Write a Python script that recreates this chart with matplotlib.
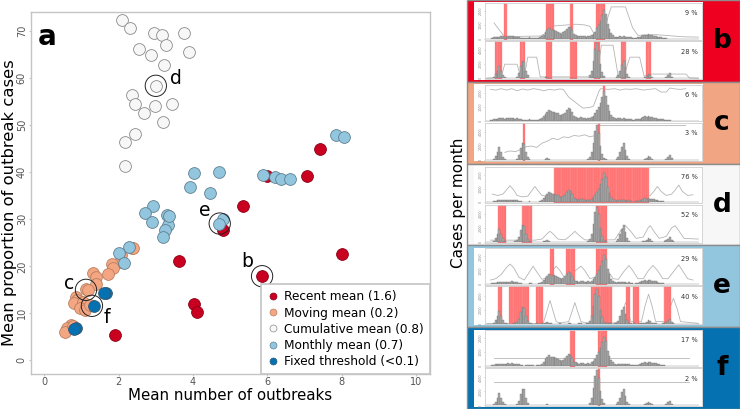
import numpy as np
import matplotlib
matplotlib.use('Agg')
import matplotlib.pyplot as plt
from matplotlib.patches import Rectangle
from matplotlib.lines import Line2D

# ---------------- data: panel a ----------------
recent_x = [7.43, 7.06, 5.98, 5.35, 4.80, 3.62, 8.00, 5.85, 4.02, 4.11, 1.90]
recent_y = [45.0, 39.2, 39.3, 32.8, 27.7, 21.1, 22.6, 18.0, 12.0, 10.2, 5.4]

moving_x = [2.36, 2.38, 2.05, 2.03, 1.81, 1.85, 1.72, 1.31, 1.40, 1.39, 1.12, 1.18,
            0.85, 0.88, 0.79, 1.03, 0.96, 1.09, 1.22, 0.71, 0.60, 0.56, 0.78]
moving_y = [24.0, 23.8, 22.4, 21.0, 20.6, 19.6, 18.4, 18.6, 17.7, 16.2, 15.1, 15.0,
            13.4, 12.8, 12.1, 12.5, 11.1, 10.7, 11.8, 7.5, 6.8, 6.0, 7.3]

cumul_x = [2.08, 2.30, 2.95, 3.17, 3.76, 3.28, 2.55, 2.87, 3.89, 3.22, 3.00, 2.37,
           2.43, 2.98, 3.43, 2.67, 3.20, 2.44, 2.16, 2.16]
cumul_y = [72.3, 70.8, 69.7, 69.2, 69.6, 67.1, 66.2, 65.0, 65.5, 62.8, 58.4, 56.4,
           54.5, 54.1, 54.5, 52.6, 50.6, 48.1, 46.4, 41.3]

monthly_x = [7.84, 8.07, 4.03, 4.70, 3.91, 4.45, 5.89, 6.22, 6.36, 6.60, 2.93, 2.72,
             2.89, 3.29, 3.33, 3.24, 3.20, 3.36, 4.80, 4.71, 2.27, 2.01, 2.14]
monthly_y = [47.9, 47.5, 39.9, 40.1, 36.9, 35.7, 39.4, 38.9, 38.6, 38.5, 32.8, 31.3,
             29.4, 30.9, 28.8, 27.7, 26.3, 30.7, 30.1, 29.0, 24.2, 22.9, 20.8]

fixed_x = [1.67, 1.60, 1.33, 0.85, 0.79]
fixed_y = [14.4, 14.3, 11.6, 6.8, 6.7]

series_labels = ['Recent mean (1.6)', 'Moving mean (0.2)', 'Cumulative mean (0.8)',
                 'Monthly mean (0.7)', 'Fixed threshold (<0.1)']

ann_labels = ['b', 'c', 'd', 'e', 'f']
ann_cx = [5.86, 1.12, 3.00, 4.72, 1.28]
ann_cy = [17.9, 15.0, 58.4, 29.1, 11.6]
ann_tx = [5.46, 0.67, 3.54, 4.33, 1.67]
ann_ty = [21.0, 16.3, 60.0, 31.9, 9.2]

x_ticks = [0, 2, 4, 6, 8, 10]
y_ticks = [0, 10, 20, 30, 40, 50, 60, 70]

# ---------------- data: panels b-f ----------------
cases_top = [0, 0, 20, 60, 100, 120, 150, 160, 180, 170,
             150, 160, 190, 170, 200, 180, 150, 160, 120, 80,
             40, 30, 50, 40, 100, 60, 40, 30, 50, 60,
             100, 180, 300, 480, 620, 760, 680, 620, 640, 560,
             520, 420, 380, 460, 560, 740, 880, 820, 600, 320,
             260, 210, 180, 230, 210, 170, 150, 200, 180, 260,
             360, 520, 760, 1000, 1300, 1700, 2100, 1800, 1100, 700,
             400, 260, 160, 100, 160, 180, 150, 170, 140, 120,
             150, 100, 60, 50, 80, 100, 150, 200, 250, 300,
             250, 320, 280, 250, 220, 200, 150, 120, 100, 80,
             50, 30, 20, 10, 0, 0, 0, 0, 0, 0,
             0, 0, 0, 0, 0, 0, 0, 0, 0, 0]

cases_bot = [0, 0, 0, 20, 150, 550, 1100, 1800, 1100, 500,
             150, 30, 0, 20, 0, 30, 60, 200, 700, 1700,
             2400, 2300, 1100, 400, 100, 40, 20, 0, 30, 20,
             0, 40, 60, 120, 250, 100, 30, 0, 20, 0,
             0, 30, 20, 0, 0, 20, 40, 30, 0, 20,
             0, 0, 30, 40, 20, 0, 30, 100, 400, 1100,
             2500, 4200, 5000, 3900, 2000, 900, 300, 100, 50, 30,
             40, 20, 50, 150, 450, 1100, 1900, 2400, 1400, 550,
             150, 40, 20, 30, 0, 20, 30, 40, 60, 150,
             300, 550, 400, 150, 40, 30, 20, 0, 20, 30,
             60, 200, 450, 700, 250, 60, 20, 0, 0, 0,
             0, 0, 0, 0, 0, 0, 0, 0, 0, 0]

panel_letters = ['b', 'c', 'd', 'e', 'f']
pct_top = ['9 %', '6 %', '76 %', '29 %', '17 %']
pct_bot = ['28 %', '3 %', '52 %', '40 %', '2 %']

# outbreak month ranges (inclusive)
red_b1 = [(10, 11), (34, 37), (47, 48), (62, 66)]
red_b2 = [(5, 8), (19, 21), (34, 36), (47, 50), (61, 63), (76, 78), (90, 92)]
red_c1 = [(66, 66)]
red_c2 = [(21, 21), (63, 63)]
red_d1 = [(38, 91)]
red_d2 = [(7, 10), (20, 25), (62, 67)]
red_e1 = [(36, 37), (45, 49), (62, 67)]
red_e2 = [(7, 8), (13, 23), (28, 31), (59, 70), (79, 80), (83, 85), (100, 103)]
red_f1 = [(47, 49), (63, 67)]
red_f2 = [(63, 63)]

# thresholds (month, cases)
thr_b1 = [(4, 1150), (6, 800), (9, 300), (11, 150), (20, 180), (30, 200), (33, 400), (36, 900),
          (40, 950), (45, 1000), (50, 1050), (55, 1000), (58, 900), (61, 200), (66, 150),
          (68, 1500), (70, 2300), (78, 2300), (82, 800), (85, 250), (95, 300), (100, 250),
          (105, 200), (110, 150), (119, 120)]
thr_b2 = [(0, 0), (8, 100), (10, 2000), (17, 2000), (19, 100), (21, 200), (23, 3000), (28, 3000),
          (30, 200), (60, 200), (62, 1000), (64.5, 4700), (71, 4700), (74, 200), (77, 300),
          (80.5, 3000), (86, 3000), (88.5, 300), (91.5, 600), (112, 600), (114, 50), (119, 0)]
thr_c1 = [(2, 2250), (5, 2200), (8, 2300), (11, 2200), (14, 2300), (17, 2150), (20, 2280),
          (23, 2200), (26, 2300), (29, 2250), (32, 2150), (35, 2250), (38, 2200), (41, 2280),
          (43, 2250), (46, 1700), (48, 1500), (51, 1200), (54, 900), (58, 950), (60, 1050),
          (63, 2100), (64, 2300), (68, 2250), (72, 2300), (75, 2200), (78, 2280), (81, 2250),
          (84, 2300), (88, 2200), (91, 2250), (95, 2300), (98, 2060), (101, 2060), (103, 2350),
          (106, 2280), (109, 2250), (112, 2300)]
thr_c2 = [(10, 1100), (13, 1300), (16, 1200), (19, 1500), (22, 1900), (25, 2000), (28, 1800),
          (31, 2400), (34, 2700), (37, 3100), (40, 2900), (43, 3300), (46, 3200), (49, 3500),
          (52, 3400), (55, 3600), (58, 3300), (61, 3500), (63, 4900), (112, 4900)]
thr_d1 = [(3, 600), (6, 500), (9, 600), (11, 900), (13, 1200), (15, 900), (17, 500), (20, 400),
          (23, 450), (25, 800), (27, 1150), (29, 800), (31, 500), (34, 450), (37, 500),
          (92, 500), (94, 800), (96, 1150), (98, 800), (101, 500), (104, 600), (106, 900),
          (108, 1250), (110, 800), (113, 500), (116, 550)]
thr_d2 = [(2, 250), (27, 250), (31, 400), (34, 1200), (35.5, 1500), (37, 1200), (40, 400),
          (44, 300), (47, 900), (49.5, 1500), (52, 900), (55, 300), (60, 250), (72, 300),
          (75, 1500), (78, 2300), (81, 1500), (84, 500), (88, 700), (91, 2100), (92, 2300),
          (94, 1500), (97, 500), (101, 800), (104, 2000), (106, 2300), (108, 1600),
          (111, 500), (119, 400)]
thr_e1 = [(2, 300), (5, 400), (8, 700), (11, 1200), (13, 1450), (15, 1200), (18, 500),
          (21, 300), (24, 900), (26, 1300), (28, 900), (31, 350), (34, 500), (37, 1000),
          (39, 1300), (41, 1000), (44, 400), (47, 600), (50, 1000), (53, 1300), (55, 1000),
          (58, 400), (61, 500), (64, 1200), (66, 1400), (68, 1000), (71, 400), (74, 350),
          (77, 900), (80, 1350), (82, 1000), (85, 400), (88, 400), (91, 1000), (93.5, 1350),
          (96, 1000), (99, 400), (102, 400), (105, 900), (108, 1400), (110, 1000),
          (113, 400), (116, 300)]
thr_e2 = [(0, 0), (30, 0), (32, 300), (34, 2000), (35.5, 3300), (37, 2000), (39, 300),
          (41, 100), (46, 300), (48, 1800), (49.5, 3000), (51, 1800), (53, 300), (56, 100),
          (72, 100), (75, 300), (77, 2000), (78, 3000), (79, 2500), (81, 300), (87, 300),
          (89, 2500), (91, 4200), (93, 2500), (95, 300), (101, 300), (103, 2200),
          (105, 3600), (107, 2200), (109, 300), (119, 50)]
thr_f1 = [(4, 580), (114, 580)]
thr_f2 = [(4, 3300), (114, 3300)]

reds_top = [red_b1, red_c1, red_d1, red_e1, red_f1]
reds_bot = [red_b2, red_c2, red_d2, red_e2, red_f2]
thr_top = [thr_b1, thr_c1, thr_d1, thr_e1, thr_f1]
thr_bot = [thr_b2, thr_c2, thr_d2, thr_e2, thr_f2]

top_ticks = [0, 1000, 2000]
bot_ticks = [0, 2000, 4000]

# ---------------- figure ----------------
W, H = 740, 409
fig = plt.figure(figsize=(7.4, 4.09), dpi=100)


def rect(x0, y0, x1, y1):
    return [x0 / W, 1 - y1 / H, (x1 - x0) / W, (y1 - y0) / H]


# ---------- panel a ----------
ax = fig.add_axes(rect(31, 12, 430, 374))
ax.set_xlim(-0.36, 10.38)
ax.set_ylim(-2.9, 74.1)
for s in ax.spines.values():
    s.set_color('#c4c4c4')
    s.set_linewidth(1.0)
ax.set_xticks(x_ticks)
ax.set_yticks(y_ticks)
ax.tick_params(axis='both', length=1.5, color='#c4c4c4', labelsize=7, labelcolor='#555555', pad=1.5)
ax.tick_params(axis='x', pad=0.8)
for lab in ax.get_yticklabels():
    lab.set_rotation(90)
    lab.set_va('center')

cols = ['#CA0020', '#F4A582', '#F7F7F7', '#92C5DE', '#0571B0']
edges = ['#8a0016', '#b88060', '#8a8a8a', '#5f7f90', '#2f5a7a']
xs = [recent_x, moving_x, cumul_x, monthly_x, fixed_x]
ys = [recent_y, moving_y, cumul_y, monthly_y, fixed_y]
for i in range(5):
    ax.scatter(xs[i], ys[i], s=72, c=cols[i], edgecolors=edges[i], linewidths=0.6, zorder=3 + i)

ax.scatter(ann_cx, ann_cy, s=235, facecolors='none', edgecolors='#222222', linewidths=0.7, zorder=10)
for lab, tx, ty in zip(ann_labels, ann_tx, ann_ty):
    ax.text(tx, ty, lab, fontsize=13.5, ha='center', va='center', zorder=11)

ax.text(0.0175, 0.909, 'a', transform=ax.transAxes, fontsize=20, fontweight='bold', va='baseline')

handles = [Line2D([], [], marker='o', ls='', ms=5, mfc=cols[i], mec=edges[i], mew=0.5)
           for i in range(5)]
leg = ax.legend(handles, series_labels, loc='lower right', bbox_to_anchor=(1, 0), borderaxespad=0,
                fancybox=False, edgecolor='#c4c4c4', fontsize=8.7, labelspacing=0.26,
                handletextpad=0.4, handlelength=1.0, borderpad=0.5, framealpha=1)
leg.get_frame().set_linewidth(1.2)
leg.set_zorder(20)

fig.text(230.5 / W, 1 - 396 / H, 'Mean number of outbreaks', fontsize=10.8, ha='center', va='center')
fig.text(10 / W, 1 - 203 / H, 'Mean proportion of outbreak cases', fontsize=11.8, rotation=90,
         ha='center', va='center')

# ---------- panels b-f ----------
fig.text(459 / W, 1 - 203 / H, 'Cases per month', fontsize=11, rotation=90, ha='center', va='center')

months = np.arange(len(cases_top))
box_colors = ['#EE0020', '#F2A582', '#F7F7F7', '#92C5DE', '#0571B0']
g_h = H / 5.0
for g in range(5):
    yt = g * g_h
    fig.add_artist(Rectangle((467 / W, 1 - (yt + g_h) / H), (W - 467) / W, g_h / H,
                             transform=fig.transFigure, facecolor=box_colors[g],
                             edgecolor='#8c8c8c', linewidth=1.0, zorder=-2))
    fig.add_artist(Rectangle((474 / W, 1 - (yt + 79.5) / H), (703 - 474) / W, 77 / H,
                             transform=fig.transFigure, facecolor='white',
                             edgecolor='none', zorder=-1))
    fig.text(722 / W, 1 - (yt + 41) / H, panel_letters[g], fontsize=19, fontweight='bold',
             ha='center', va='center')
    specs = [(yt + 3, yt + 39.5, cases_top, reds_top[g], thr_top[g], pct_top[g], 2580, -50,
              top_ticks),
             (yt + 41, yt + 79, cases_bot, reds_bot[g], thr_bot[g], pct_bot[g], 5300, -100,
              bot_ticks)]
    for (y0, y1, vals, reds, thr, pct, ytop, ybot, yt_ticks) in specs:
        sa = fig.add_axes(rect(485, y0, 702, y1))
        sa.set_xlim(-1.1, 121.1)
        sa.set_ylim(ybot, ytop)
        for s in sa.spines.values():
            s.set_color('#cfcfcf')
            s.set_linewidth(0.6)
        sa.set_xticks([])
        sa.set_yticks(yt_ticks)
        sa.set_yticklabels([str(v) for v in yt_ticks], fontsize=2.4, color='#888888', rotation=90,
                           va='center')
        sa.tick_params(axis='y', length=1, width=0.4, color='#aaaaaa', pad=0.8)
        tm = [p[0] for p in thr]
        tv = [p[1] for p in thr]
        sa.plot(tm, tv, color='#b5b5b5', lw=0.6, zorder=1)
        red_months = []
        for a0, a1 in reds:
            red_months.extend(range(a0, a1 + 1))
        sa.bar(red_months, [ytop - ybot] * len(red_months), bottom=ybot, width=1.0,
               color='#FF6B6B', edgecolor='#FF9A9A', linewidth=0.3, zorder=2)
        sa.bar(months, vals, width=1.0, color='#ababab', edgecolor='#6a6a6a', linewidth=0.25,
               zorder=3)
        sa.text(0.98, 0.72, pct, transform=sa.transAxes, fontsize=4.8, ha='right', va='center',
                color='#333333', zorder=5)

fig.savefig('out.png', dpi=100)
